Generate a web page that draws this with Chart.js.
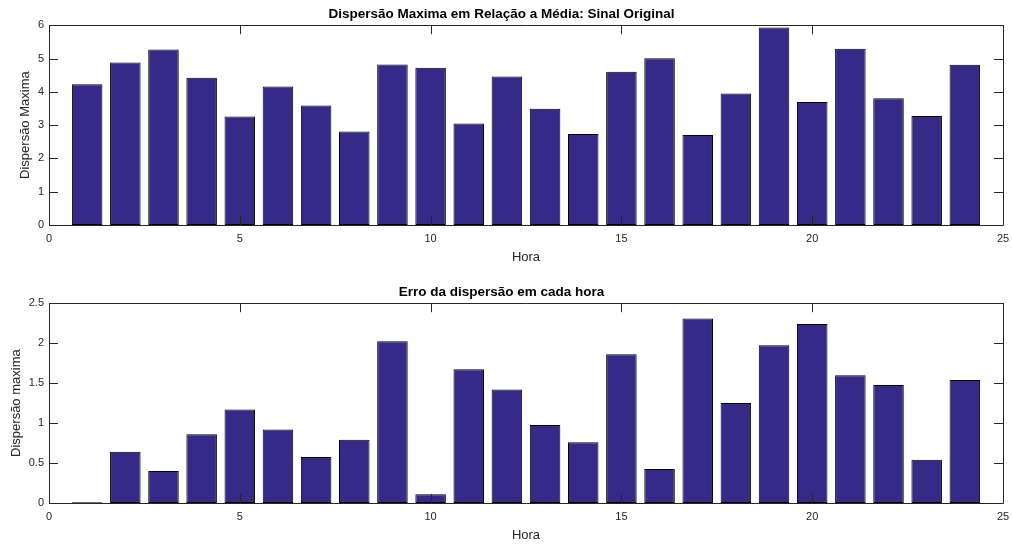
<!DOCTYPE html>
<html>
<head>
<meta charset="utf-8">
<script src="https://cdn.jsdelivr.net/npm/chart.js@4.4.1/dist/chart.umd.min.js"></script>
<style>
  html, body { margin: 0; padding: 0; background: #fff; }
  #wrap { position: relative; width: 1012px; height: 545px; }
  .box { position: absolute; left: 0; width: 1012px; }
</style>
</head>
<body>
<div id="wrap">
  <div class="box" style="top:0;height:270px"><canvas id="topChart"></canvas></div>
  <div class="box" style="top:270px;height:275px"><canvas id="bottomChart"></canvas></div>
</div>
<script>
// hours 1..24
var horas = [1, 2, 3, 4, 5, 6, 7, 8, 9, 10, 11, 12, 13, 14, 15, 16, 17, 18, 19, 20, 21, 22, 23, 24];
// Dispersão maxima - sinal original
var dispersaoMax = [4.23, 4.88, 5.27, 4.42, 3.26, 4.16, 3.59, 2.81, 4.82, 4.72, 3.05, 4.46,
                    3.49, 2.73, 4.60, 5.01, 2.70, 3.95, 5.93, 3.69, 5.29, 3.81, 3.27, 4.81];
// erro da dispersão em cada hora
var erroDispersao = [0.01, 0.64, 0.40, 0.86, 1.17, 0.92, 0.575, 0.79, 2.025, 0.11, 1.675, 1.42,
                     0.975, 0.76, 1.86, 0.425, 2.31, 1.25, 1.975, 2.24, 1.60, 1.475, 0.54, 1.54];

var barColor = 'rgb(53, 42, 135)';
var axisColor = '#262626';
var fontFam = '"Liberation Sans", Arial, Helvetica, sans-serif';

// MATLAB style box with inward ticks on all four sides
var boxPlugin = {
  id: 'matlabBox',
  afterDatasetsDraw: function(chart) {
    var c = chart.ctx;
    var a = chart.chartArea;
    var xs = chart.scales.x, ys = chart.scales.y;
    var len = 9;
    c.save();
    c.strokeStyle = axisColor;
    c.lineWidth = 1;
    c.beginPath();
    c.rect(Math.round(a.left) + 0.5, Math.round(a.top) + 0.5, Math.round(a.right - a.left), Math.round(a.bottom - a.top));
    xs.ticks.forEach(function(t) {
      var px = Math.round(xs.getPixelForValue(t.value)) + 0.5;
      c.moveTo(px, a.bottom); c.lineTo(px, a.bottom - len);
      c.moveTo(px, a.top); c.lineTo(px, a.top + len);
    });
    ys.ticks.forEach(function(t) {
      var py = Math.round(ys.getPixelForValue(t.value)) + 0.5;
      c.moveTo(a.left, py); c.lineTo(a.left + len, py);
      c.moveTo(a.right, py); c.lineTo(a.right - len, py);
    });
    c.stroke();
    c.restore();
  }
};

function makeChart(id, values, opts) {
  var pts = [];
  for (var i = 0; i < horas.length; i++) {
    pts.push({x: horas[i], y: values[i]});
  }
  return new Chart(document.getElementById(id).getContext('2d'), {
    type: 'bar',
    data: {
      datasets: [{
        data: pts,
        backgroundColor: barColor,
        borderColor: '#000',
        borderWidth: 1,
        borderSkipped: false,
        barPercentage: 0.8,
        categoryPercentage: 1.0
      }]
    },
    options: {
      responsive: true,
      maintainAspectRatio: false,
      animation: false,
      layout: { padding: { left: 0, right: 9, top: 0, bottom: 0 } },
      plugins: {
        legend: { display: false },
        tooltip: { enabled: false },
        title: {
          display: true,
          text: opts.title,
          color: '#000',
          font: { family: fontFam, size: 13.5, weight: 'bold' },
          padding: opts.titlePad
        }
      },
      scales: {
        x: {
          type: 'linear',
          min: 0, max: 25,
          offset: false,
          grid: { display: false, drawTicks: false },
          border: { display: false },
          ticks: { stepSize: 5, padding: 7, color: axisColor, font: { family: fontFam, size: 11 }, maxRotation: 0 },
          title: { display: true, text: 'Hora', color: axisColor, font: { family: fontFam, size: 13 }, padding: { top: 0, bottom: opts.xTitleBottom } },
          afterFit: function(s) {
            s.height = opts.xHeight;
            s.paddingLeft = 0;
            s.paddingRight = 0;
          }
        },
        y: {
          min: 0, max: opts.yMax,
          grid: { display: false, drawTicks: false },
          border: { display: false },
          ticks: {
            stepSize: opts.yStep, padding: 5, color: axisColor, font: { family: fontFam, size: 11 },
            callback: function(v) { return String(v); }
          },
          title: { display: true, text: opts.yTitle, color: axisColor, font: { family: fontFam, size: 13 }, padding: { top: opts.yTitleTop, bottom: 0 } },
          afterFit: function(s) { s.width = 49; }
        }
      }
    },
    plugins: [boxPlugin]
  });
}

makeChart('topChart', dispersaoMax, {
  title: 'Dispersão Maxima em Relação a Média: Sinal Original',
  titlePad: { top: 6, bottom: 3 },
  xHeight: 45, xTitleBottom: 5,
  yMax: 6, yStep: 1,
  yTitle: 'Dispersão Maxima', yTitleTop: 18
});

makeChart('bottomChart', erroDispersao, {
  title: 'Erro da dispersão em cada hora',
  titlePad: { top: 14, bottom: 3 },
  xHeight: 42, xTitleBottom: 2,
  yMax: 2.5, yStep: 0.5,
  yTitle: 'Dispersão maxima', yTitleTop: 9
});
</script>
</body>
</html>
